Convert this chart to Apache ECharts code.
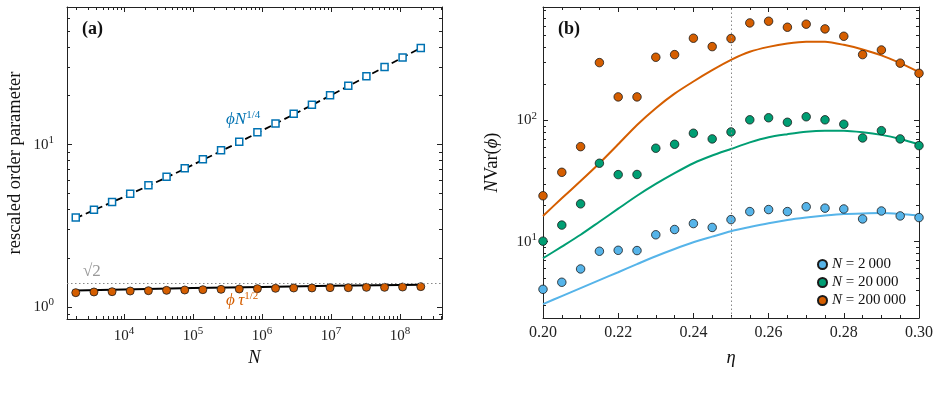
<!DOCTYPE html>
<html>
<head>
<meta charset="utf-8">
<script src="https://cdn.jsdelivr.net/npm/echarts@6/dist/echarts.min.js"></script>
<style>
  html, body { margin: 0; padding: 0; background: #fff; }
  #chart { width: 940px; height: 413px; }
</style>
</head>
<body>
<div id="chart"></div>
<script>
// panel (a): system sizes and rescaled order parameters
var sizeN = [2000, 3670, 6720, 12300, 22600, 41400, 75900, 139000, 255000, 468000,
  858000, 1570000, 2880000, 5290000, 9690000, 17800000, 32600000, 59700000, 109000000, 200000000];
var phiN = [3.56, 3.97, 4.43, 4.98, 5.61, 6.35, 7.14, 8.12, 9.22, 10.4,
  11.9, 13.5, 15.5, 17.6, 20.1, 23.0, 26.3, 30.0, 34.4, 39.3];
var phiNFit = [3.52, 3.95, 4.42, 4.96, 5.58, 6.28, 7.09, 8.05, 9.12, 10.35,
  11.8, 13.45, 15.35, 17.5, 20.0, 22.9, 26.2, 30.0, 34.4, 39.4];
var phiTau = [1.226, 1.238, 1.243, 1.255, 1.261, 1.267, 1.273, 1.279, 1.285, 1.291,
  1.298, 1.304, 1.310, 1.310, 1.316, 1.316, 1.322, 1.322, 1.328, 1.335];
var tauFitN = [2000, 10000, 100000, 1000000, 10000000, 100000000, 200000000];
var tauFit = [1.262, 1.283, 1.308, 1.330, 1.350, 1.368, 1.373];
var sqrt2Level = [1.4142];

// panel (b): eta grid, measured variance and curves
var eta = [0.200, 0.205, 0.210, 0.215, 0.220, 0.225, 0.230, 0.235, 0.240, 0.245, 0.250,
  0.255, 0.260, 0.265, 0.270, 0.275, 0.280, 0.285, 0.290, 0.295, 0.300];
var var2k = [4.05, 4.63, 5.96, 8.34, 8.49, 8.45, 11.4, 12.6, 14.1, 13.1, 15.2,
  17.7, 18.4, 17.7, 19.4, 18.9, 18.6, 15.4, 17.9, 16.3, 15.8];
var var20k = [10.1, 13.7, 20.5, 44.3, 35.7, 35.8, 58.9, 63.5, 78.3, 70.3, 80.2,
  101, 105, 96.4, 107, 101, 92.9, 71.6, 82.2, 70.3, 61.9];
var var200k = [23.9, 37.3, 60.7, 299, 156, 156, 331, 348, 475, 405, 472,
  635, 656, 585, 620, 567, 493, 348, 380, 296, 244];
var curve2k = [3.06, 3.56, 4.14, 4.82, 5.60, 6.53, 7.59, 8.71, 9.89, 11.0, 12.2,
  13.2, 14.2, 15.1, 15.8, 16.4, 16.9, 17.1, 17.2, 16.9, 16.4];
var curve20k = [7.3, 9.1, 11.4, 14.6, 18.7, 23.9, 29.9, 36.7, 44.3, 51.3, 58.1,
  65.8, 72.6, 76.9, 80.7, 82.2, 82.2, 79.8, 75.9, 70.3, 63.5];
var curve200k = [16.3, 22.8, 31.6, 44.3, 63.5, 91.6, 126, 166, 209, 259, 315,
  367, 403, 430, 445, 444, 419, 384, 343, 296, 250];
var sizeLabels = ['2\u2009000', '20\u2009000', '200\u2009000'];
var etaMark = [0.25];

// tick labels (powers of ten) and axis ranges
var aXExp = [4, 5, 6, 7, 8];
var aYExp = [0, 1];
var bYExp = [1, 2];
var aXRange = [1493, 4.06e8];
var aYRange = [0.844, 70.3];
var bYRange = [2.35, 859];

var SERIF = '"Liberation Serif", "DejaVu Serif", serif';
var AX = '#222';
var cBlue = '#0072B2', cOrange = '#D55E00', cGreen = '#009E73', cSky = '#56B4E9';

function lg(v) { return Math.log10(v); }

function minorLogs(lo, hi) {
  var out = [];
  for (var e = Math.floor(lg(lo)); e <= Math.ceil(lg(hi)); e++) {
    for (var k = 2; k <= 9; k++) {
      var v = k * Math.pow(10, e);
      if (v >= lo && v <= hi) out.push(lg(v));
    }
  }
  return out;
}

var powRich = {
  b: { fontFamily: SERIF, fontSize: 15, color: AX },
  s: { fontFamily: SERIF, fontSize: 11, color: AX, padding: [0, 0, 9, 0] }
};

// value axes in log10 space, used only to draw ticks / labels
function tickAxis(grid, pos, range, vals, len, withLabels, margin, extra) {
  var ax = {
    type: 'value', gridIndex: grid, position: pos,
    min: lg(range[0]), max: lg(range[1]),
    axisLine: { show: len > 4, onZero: false, lineStyle: { color: AX, width: 1 } },
    splitLine: { show: false },
    axisTick: { show: true, inside: true, length: len, customValues: vals,
      lineStyle: { color: AX, width: 1 } },
    axisLabel: withLabels ? {
      show: true, customValues: vals, margin: margin,
      formatter: function (v) { return '{b|10}{s|' + Math.round(v) + '}'; },
      rich: powRich
    } : { show: false }
  };
  for (var k in extra) ax[k] = extra[k];
  return ax;
}

function dataAxis(grid, range) {
  return { type: 'log', gridIndex: grid, min: range[0], max: range[1], show: false };
}

function pairs(xs, ys) {
  return xs.map(function (x, i) { return [x, ys[i]]; });
}

var aXMinor = minorLogs(aXRange[0], aXRange[1]);
var aYMinor = minorLogs(aYRange[0], aYRange[1]);
var bYMinor = minorLogs(bYRange[0], bYRange[1]);

var xAxes = [
  dataAxis(0, aXRange),
  tickAxis(0, 'bottom', aXRange, aXExp, 5, true, 7, {
    name: 'N', nameLocation: 'middle', nameGap: 30,
    nameTextStyle: { fontFamily: SERIF, fontSize: 18.5, fontStyle: 'italic', color: '#111' }
  }),
  tickAxis(0, 'bottom', aXRange, aXMinor, 3, false),
  tickAxis(0, 'top', aXRange, aXExp, 5, false),
  tickAxis(0, 'top', aXRange, aXMinor, 3, false),
  {
    type: 'value', gridIndex: 1, position: 'bottom', min: 0.2, max: 0.3, interval: 0.02,
    axisLine: { onZero: false, lineStyle: { color: AX, width: 1 } },
    splitLine: { show: false },
    axisTick: { inside: true, length: 5, lineStyle: { color: AX } },
    minorTick: { show: true, splitNumber: 4, length: 3, lineStyle: { color: AX } },
    axisLabel: { margin: 7, fontFamily: SERIF, fontSize: 16, color: AX,
      formatter: function (v) { return v.toFixed(2); } },
    name: '\u03b7', nameLocation: 'middle', nameGap: 31,
    nameTextStyle: { fontFamily: SERIF, fontSize: 18.5, fontStyle: 'italic', color: '#111' }
  },
  {
    type: 'value', gridIndex: 1, position: 'top', min: 0.2, max: 0.3, interval: 0.02,
    axisLine: { onZero: false, lineStyle: { color: AX, width: 1 } },
    splitLine: { show: false },
    axisTick: { inside: true, length: 5, lineStyle: { color: AX } },
    minorTick: { show: true, splitNumber: 4, length: 3, lineStyle: { color: AX } },
    axisLabel: { show: false }
  }
];

var yAxes = [
  dataAxis(0, aYRange),
  tickAxis(0, 'left', aYRange, aYExp, 5, true, 13, {
    name: 'rescaled order parameter', nameLocation: 'middle', nameGap: 42,
    nameTextStyle: { fontFamily: SERIF, fontSize: 18.5, color: '#111' }
  }),
  tickAxis(0, 'left', aYRange, aYMinor, 3, false),
  tickAxis(0, 'right', aYRange, aYExp, 5, false),
  tickAxis(0, 'right', aYRange, aYMinor, 3, false),
  dataAxis(1, bYRange),
  tickAxis(1, 'left', bYRange, bYExp, 5, true, 6, {
    name: '{i|N}{r|Var(}{i|\u03d5}{r|)}', nameLocation: 'middle', nameGap: 41,
    nameTextStyle: {
      fontFamily: SERIF, fontSize: 18.5, color: '#111',
      rich: {
        i: { fontFamily: SERIF, fontSize: 18.5, fontStyle: 'italic', color: '#111' },
        r: { fontFamily: SERIF, fontSize: 18.5, color: '#111' }
      }
    }
  }),
  tickAxis(1, 'left', bYRange, bYMinor, 3, false),
  tickAxis(1, 'right', bYRange, bYExp, 5, false),
  tickAxis(1, 'right', bYRange, bYMinor, 3, false)
];

function dotBorder(color) {
  return { color: color, borderColor: '#1a1a1a', borderWidth: 0.8, opacity: 1 };
}

var series = [
  {
    name: 'fitN', type: 'line', xAxisIndex: 0, yAxisIndex: 0, z: 2,
    data: pairs(sizeN, phiNFit), showSymbol: false,
    lineStyle: { color: '#000', width: 1.8, type: [7, 4] }
  },
  {
    name: 'phiN', type: 'scatter', xAxisIndex: 0, yAxisIndex: 0, z: 4,
    data: pairs(sizeN, phiN), symbol: 'rect', symbolSize: 7,
    itemStyle: { color: '#fff', borderColor: cBlue, borderWidth: 1.5, opacity: 1 }
  },
  {
    name: 'fitTau', type: 'line', xAxisIndex: 0, yAxisIndex: 0, z: 3,
    data: pairs(tauFitN, tauFit), showSymbol: false,
    lineStyle: { color: '#000', width: 2 },
    markLine: {
      silent: true, symbol: 'none', label: { show: false },
      lineStyle: { color: '#888', width: 1, type: [1.5, 2.5] },
      data: sqrt2Level.map(function (v) { return { yAxis: v }; })
    }
  },
  {
    name: 'phiTau', type: 'scatter', xAxisIndex: 0, yAxisIndex: 0, z: 4,
    data: pairs(sizeN, phiTau), symbol: 'circle', symbolSize: 8,
    itemStyle: dotBorder(cOrange)
  },
  {
    name: 'c2k', type: 'line', xAxisIndex: 5, yAxisIndex: 5, z: 2, smooth: 0.25,
    data: pairs(eta, curve2k), showSymbol: false,
    lineStyle: { color: cSky, width: 2 },
    markLine: {
      silent: true, symbol: 'none', label: { show: false },
      lineStyle: { color: '#888', width: 1, type: [1.5, 2.5] },
      data: etaMark.map(function (v) { return { xAxis: v }; })
    }
  },
  {
    name: 'c20k', type: 'line', xAxisIndex: 5, yAxisIndex: 5, z: 2, smooth: 0.25,
    data: pairs(eta, curve20k), showSymbol: false,
    lineStyle: { color: cGreen, width: 2 }
  },
  {
    name: 'c200k', type: 'line', xAxisIndex: 5, yAxisIndex: 5, z: 2, smooth: 0.25,
    data: pairs(eta, curve200k), showSymbol: false,
    lineStyle: { color: cOrange, width: 2 }
  },
  {
    name: 'N=' + sizeLabels[0], type: 'scatter', xAxisIndex: 5, yAxisIndex: 5, z: 4,
    data: pairs(eta, var2k), symbol: 'circle', symbolSize: 8.5, itemStyle: dotBorder(cSky)
  },
  {
    name: 'N=' + sizeLabels[1], type: 'scatter', xAxisIndex: 5, yAxisIndex: 5, z: 4,
    data: pairs(eta, var20k), symbol: 'circle', symbolSize: 8.5, itemStyle: dotBorder(cGreen)
  },
  {
    name: 'N=' + sizeLabels[2], type: 'scatter', xAxisIndex: 5, yAxisIndex: 5, z: 4,
    data: pairs(eta, var200k), symbol: 'circle', symbolSize: 8.5, itemStyle: dotBorder(cOrange)
  }
];

function annot(left, top, text, rich) {
  return { type: 'text', left: left, top: top, z: 10, silent: true,
    style: { text: text, rich: rich } };
}

var chart = echarts.init(document.getElementById('chart'), null, { renderer: 'canvas' });
chart.setOption({
  animation: false,
  backgroundColor: '#fff',
  grid: [
    { left: 67, top: 7, width: 375, height: 312, outerBoundsMode: 'none' },
    { left: 543, top: 7, width: 376, height: 311, outerBoundsMode: 'none' }
  ],
  xAxis: xAxes,
  yAxis: yAxes,
  legend: {
    orient: 'vertical', left: 812, top: 252, itemGap: 3,
    itemWidth: 9, itemHeight: 9, icon: 'circle',
    data: sizeLabels.map(function (s) { return 'N=' + s; }),
    formatter: function (name) {
      return '{i|N}{r| = ' + name.split('=')[1] + '}';
    },
    textStyle: {
      fontFamily: SERIF, fontSize: 15, color: '#111',
      rich: {
        i: { fontFamily: SERIF, fontSize: 15, fontStyle: 'italic', color: '#111' },
        r: { fontFamily: SERIF, fontSize: 15, color: '#111' }
      }
    }
  },
  graphic: [
    annot(82, 20, '{t|(a)}', { t: { fontFamily: SERIF, fontSize: 18, fontWeight: 'bold', fill: '#111' } }),
    annot(558, 20, '{t|(b)}', { t: { fontFamily: SERIF, fontSize: 18, fontWeight: 'bold', fill: '#111' } }),
    annot(226, 110, '{i|\u03d5N}{s|1/4}', {
      i: { fontFamily: SERIF, fontSize: 17, fontStyle: 'italic', fill: cBlue },
      s: { fontFamily: SERIF, fontSize: 11, fill: cBlue, padding: [0, 0, 9, 0] }
    }),
    annot(83, 263, '{t|\u221a2}', { t: { fontFamily: SERIF, fontSize: 17, fill: '#999' } }),
    annot(226, 291, '{i|\u03d5\u2009\u03c4}{s|1/2}', {
      i: { fontFamily: SERIF, fontSize: 17, fontStyle: 'italic', fill: cOrange },
      s: { fontFamily: SERIF, fontSize: 11, fill: cOrange, padding: [0, 0, 9, 0] }
    })
  ],
  series: series
});
</script>
</body>
</html>
